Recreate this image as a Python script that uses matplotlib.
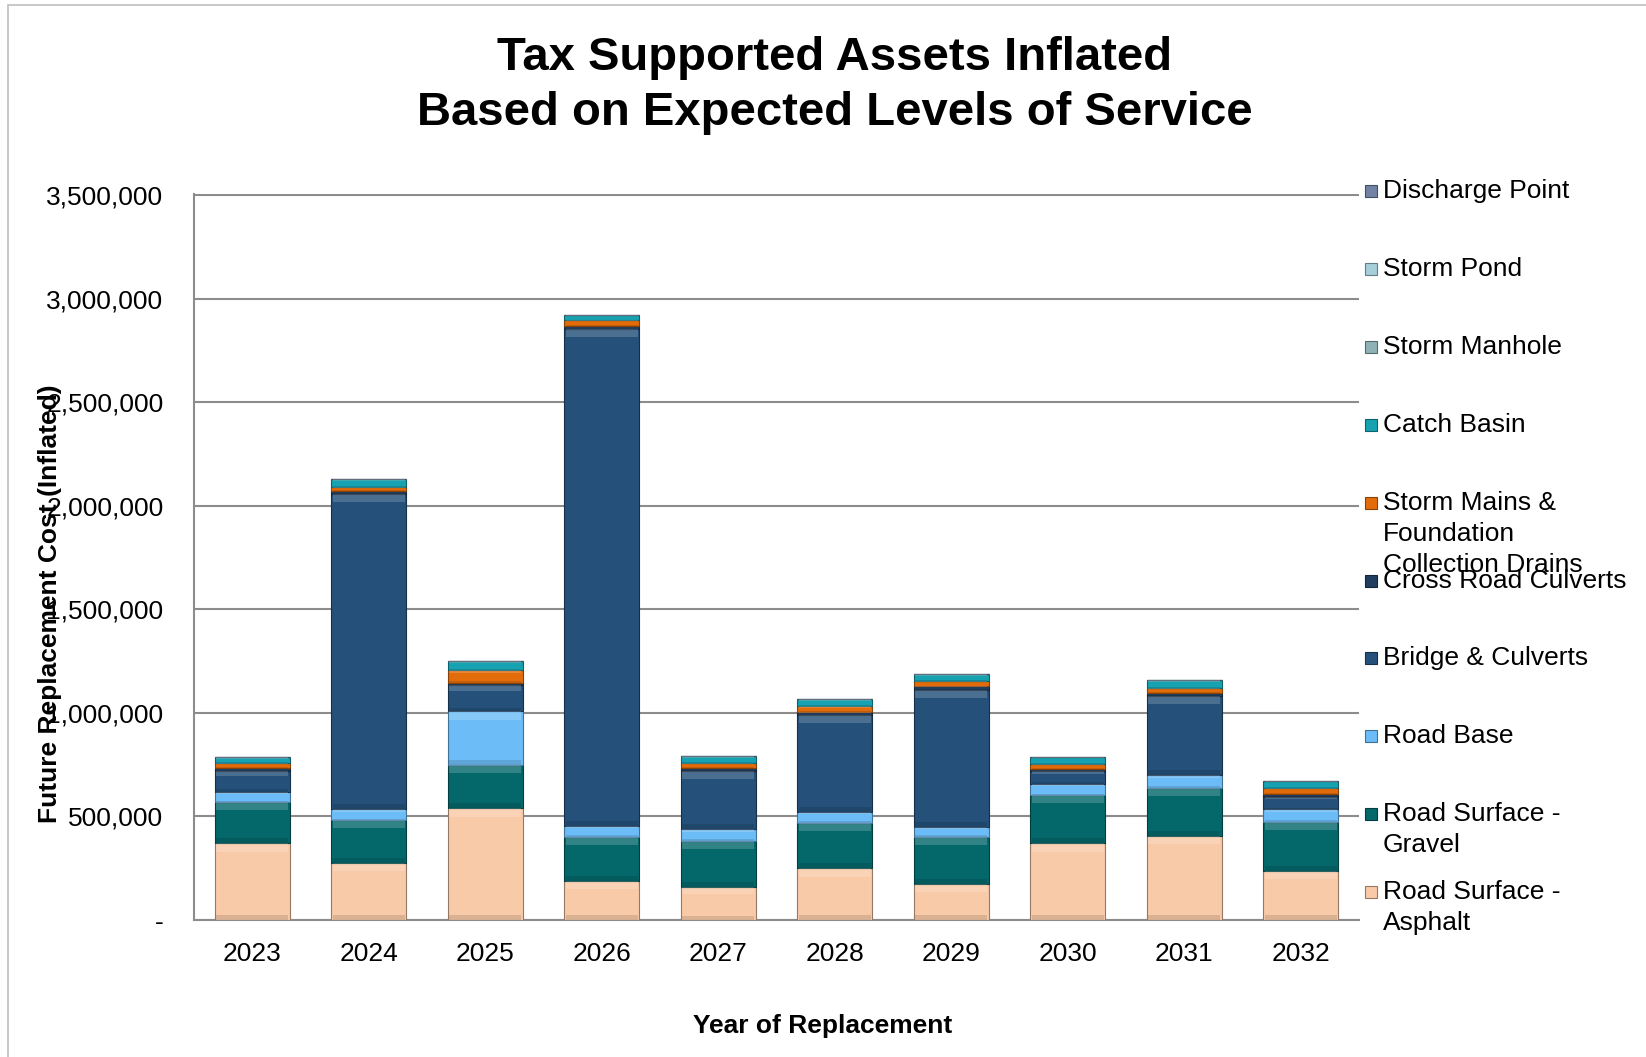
import numpy as np
import matplotlib
matplotlib.use("Agg")
import matplotlib.pyplot as plt
from matplotlib.colors import to_rgb
from matplotlib.patches import Rectangle
from matplotlib.ticker import FuncFormatter

plt.rcParams["font.family"] = ["Liberation Sans", "DejaVu Sans"]

years = ["2023", "2024", "2025", "2026", "2027", "2028", "2029", "2030", "2031", "2032"]

# replacement cost per asset class, bottom of the stack first
road_asphalt = [370000, 276000, 539000, 190000, 161000, 249000, 174000, 370000, 406000, 236000]
road_gravel = [200000, 206000, 209000, 212000, 221000, 220000, 228000, 233000, 234000, 238000]
road_base = [48000, 52000, 260000, 53000, 57000, 53000, 48000, 56000, 59000, 60000]
bridge_culverts = [100000, 1525000, 125000, 2400000, 282000, 468000, 662000, 60000, 385000, 62000]
cross_road_culverts = [18000, 14000, 14000, 16000, 15000, 14000, 16000, 12000, 14000, 15000]
storm_mains = [22000, 20000, 59000, 26000, 23000, 28000, 26000, 24000, 24000, 27000]
catch_basin = [28000, 36000, 45000, 26000, 32000, 34000, 32000, 34000, 35000, 34000]
storm_manhole = [0, 0, 0, 0, 0, 0, 0, 0, 0, 0]
storm_pond = [0, 0, 0, 0, 0, 0, 0, 0, 0, 0]
discharge_point = [0, 0, 0, 0, 0, 0, 0, 0, 0, 0]

series = [
    ("Road Surface -\nAsphalt", road_asphalt, "#f9caa7"),
    ("Road Surface -\nGravel", road_gravel, "#04686b"),
    ("Road Base", road_base, "#6cbcf7"),
    ("Bridge & Culverts", bridge_culverts, "#24507a"),
    ("Cross Road Culverts", cross_road_culverts, "#1f3e5f"),
    ("Storm Mains &\nFoundation\nCollection Drains", storm_mains, "#e36c0a"),
    ("Catch Basin", catch_basin, "#16a2b0"),
    ("Storm Manhole", storm_manhole, "#8fb2b6"),
    ("Storm Pond", storm_pond, "#a6cfdb"),
    ("Discharge Point", discharge_point, "#7282a4"),
]

W, H = 1646, 1057
fig = plt.figure(figsize=(W / 100, H / 100), dpi=100)
fig.patches.append(Rectangle((8 / W, -0.01), 1.1, 1.0 - 5 / H + 0.01,
                             transform=fig.transFigure, fill=False,
                             edgecolor="#bfbfbf", linewidth=1.2))

ax = fig.add_axes([194 / W, 1 - 920 / H, (1359 - 194) / W, (920 - 194) / H])

x = np.arange(len(years))
bar_w = 0.64
bottom = np.zeros(len(years))
for label, vals, color in series:
    vals = np.asarray(vals, dtype=float)
    rgb = np.array(to_rgb(color))
    ax.bar(x, vals, bar_w, bottom=bottom, color=color,
           edgecolor=tuple(rgb * 0.6), linewidth=0.8, zorder=3)
    # bevel: light band along the top of each segment, dark band at its foot
    band = np.minimum(vals * 0.22, 40000)
    ax.bar(x, band, bar_w * 0.96, bottom=bottom + vals - band,
           color="white", alpha=0.18, linewidth=0, zorder=4)
    ax.bar(x, band * 0.6, bar_w * 0.96, bottom=bottom,
           color="black", alpha=0.12, linewidth=0, zorder=4)
    bottom += vals

ax.set_xlim(-0.5, len(years) - 0.5)
ax.set_ylim(0, 3.5e6 * 1.002)
ax.set_yticks(np.arange(0, 3.5e6 + 1, 5e5))
ax.yaxis.set_major_formatter(FuncFormatter(lambda v, _: "-" if v == 0 else f"{v:,.0f}"))
ax.set_xticks(x)
ax.set_xticklabels(years)
ax.tick_params(axis="y", length=0, pad=22, labelsize=19)
ax.tick_params(axis="x", length=0, pad=16, labelsize=19)
ax.grid(axis="y", color="#8c8c8c", linewidth=1.5, zorder=0)
ax.set_axisbelow(True)
for side in ("top", "right"):
    ax.spines[side].set_visible(False)
for side in ("left", "bottom"):
    ax.spines[side].set_color("#8c8c8c")
    ax.spines[side].set_linewidth(1.5)

fig.text(0.507, 1 - 58 / H, "Tax Supported Assets Inflated", ha="center", va="center",
         fontsize=34, fontweight="bold")
fig.text(0.507, 1 - 113 / H, "Based on Expected Levels of Service", ha="center", va="center",
         fontsize=34, fontweight="bold")
fig.text(0.5, 1 - 1026 / H, "Year of Replacement", ha="center", va="center",
         fontsize=19, fontweight="bold")
fig.text(50 / W, 1 - 604 / H, "Future Replacement Cost (Inflated)", ha="center", va="center",
         rotation=90, fontsize=19, fontweight="bold")

# legend drawn by hand, top series first, one slot per entry
entry_y0, entry_step, line_step = 191, 77.9, 31
for i, (label, _, color) in enumerate(series[::-1]):
    y = entry_y0 + i * entry_step
    fig.patches.append(Rectangle(((1371 - 6) / W, 1 - (y + 6) / H), 12 / W, 12 / H,
                                 transform=fig.transFigure, facecolor=color,
                                 edgecolor=tuple(np.array(to_rgb(color)) * 0.6),
                                 linewidth=0.8))
    for k, line in enumerate(label.split("\n")):
        fig.text(1383 / W, 1 - (y + k * line_step) / H, line, ha="left", va="center",
                 fontsize=19)

fig.savefig("out.png", dpi=100)
